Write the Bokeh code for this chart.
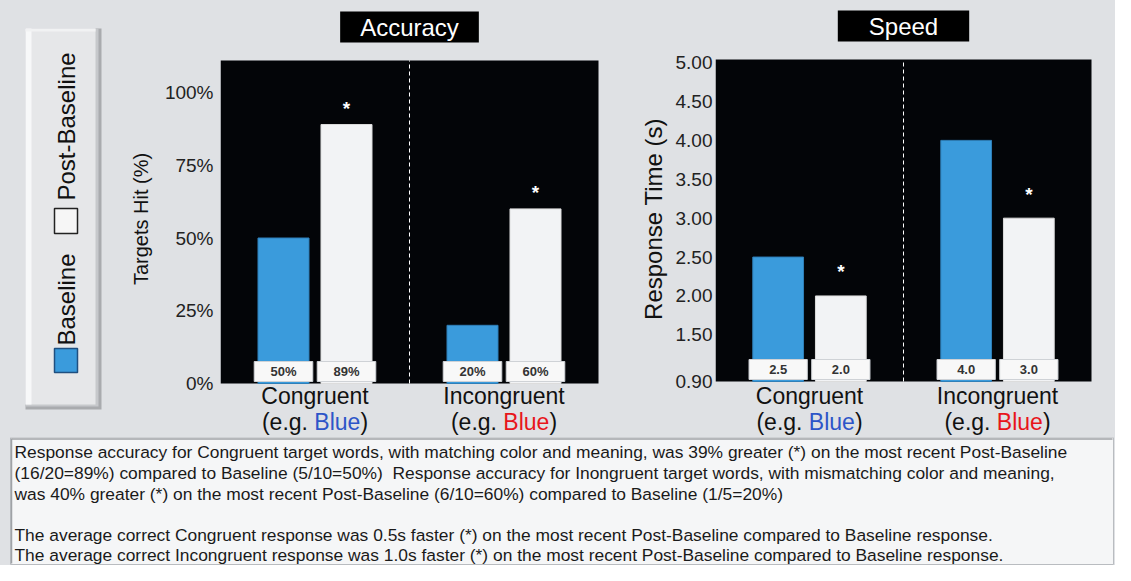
import math
from bokeh.plotting import figure
from bokeh.models import Range1d, FixedTicker, PrintfTickFormatter, Label, BoxAnnotation
from bokeh.layouts import row, column
from bokeh.embed import file_html
from bokeh.resources import INLINE
from bokeh.core.properties import value

# ---------------- data ----------------
categories = ["Congruent", "Incongruent"]
series_names = ["Baseline", "Post-Baseline"]
acc_baseline = [50, 20]
acc_post = [89, 60]
speed_baseline = [2.5, 4.0]
speed_post = [2.0, 3.0]
acc_ticks = [0, 25, 50, 75, 100]
speed_ticks = [0.9, 1.5, 2.0, 2.5, 3.0, 3.5, 4.0, 4.5, 5.0]
example_word = "Blue"
example_colors = ["#2d55c8", "#e8151b"]
summary_lines = [
    "Response accuracy for Congruent target words, with matching color and meaning, was 39% greater (*) on the most recent Post-Baseline",
    "(16/20=89%) compared to Baseline (5/10=50%) \u00a0Response accuracy for Inongruent target words, with mismatching color and meaning,",
    "was 40% greater (*) on the most recent Post-Baseline (6/10=60%) compared to Baseline (1/5=20%)",
    "",
    "The average correct Congruent response was 0.5s faster (*) on the most recent Post-Baseline compared to Baseline response.",
    "The average correct Incongruent response was 1.0s faster (*) on the most recent Post-Baseline compared to Baseline response.",
]

# ---------------- style / layout ----------------
BG = "#dfe1e4"
FRAME = "#030508"
BLUE = "#3a9bdc"
WHITE_BAR = "#f2f3f5"
FONT = "Liberation Sans"
PAGE_W = 1115
PAGE_H = 565
ROW_H = 437


def make_panel(title, ylabel, ylabel_size, base, post, ymin, ymax, ticks, tick_fmt, val_fmt,
               fig_left, fig_width, box_left, box_right, box_top, box_bottom,
               title_pad, title_y, star_gap, label_standoff, axis_standoff, cat_y1, cat_y2):
    ppu = (box_bottom - box_top) / (ymax - ymin)      # px per data unit (y)
    ppx = (box_right - box_left) / 2.0                # px per category (x)

    def ydata(py):
        return ymin + (box_bottom - py) / ppu

    x_end = (fig_left + fig_width - box_left) / ppx
    p = figure(width=fig_width, height=ROW_H,
               x_range=Range1d(0, x_end), y_range=Range1d(ydata(ROW_H), ydata(0)),
               output_backend="svg", toolbar_location=None,
               min_border_left=box_left - fig_left, min_border_right=0,
               min_border_top=0, min_border_bottom=0)
    p.background_fill_color = BG
    p.border_fill_color = BG
    p.outline_line_color = None
    p.grid.visible = False
    p.xaxis.visible = False

    # black plotting area
    p.add_layout(BoxAnnotation(left=0, right=2, bottom=ymin, top=ymax, fill_color=FRAME,
                               fill_alpha=1, line_color=None, level="underlay"))

    ya = p.yaxis[0]
    ya.ticker = FixedTicker(ticks=ticks)
    ya.formatter = PrintfTickFormatter(format=tick_fmt)
    ya.axis_line_color = None
    ya.major_tick_line_color = None
    ya.minor_tick_line_color = None
    ya.major_tick_out = 0
    ya.major_tick_in = 0
    ya.minor_tick_out = 0
    ya.minor_tick_in = 0
    ya.major_label_text_font = FONT
    ya.major_label_text_font_size = "19px"
    ya.major_label_text_color = "#222222"
    ya.major_label_standoff = label_standoff
    ya.axis_label = ylabel
    ya.axis_label_text_font = FONT
    ya.axis_label_text_font_size = ylabel_size
    ya.axis_label_text_font_style = "normal"
    ya.axis_label_text_color = "#111111"
    ya.axis_label_standoff = axis_standoff

    centers = [i + 0.5 for i in range(len(categories))]
    xb = [c - 1 / 6 for c in centers]
    xp = [c + 1 / 6 for c in centers]
    p.vbar(x=xb, top=base, bottom=ymin, width=0.27, fill_color=BLUE, line_color="#2f7fb8")
    p.vbar(x=xp, top=post, bottom=ymin, width=0.27, fill_color=WHITE_BAR, line_color="#dcdcdc")

    # value boxes at bar foot
    xs = xb + xp
    vals = list(base) + list(post)
    yb = [ymin + 12 / ppu] * len(xs)
    p.rect(x=xs, y=yb, width=0.31, height=20, height_units="screen",
           fill_color="#f8f8f8", line_color="#cfd2d6")
    p.text(x=xs, y=yb, text=[val_fmt(v) for v in vals], text_align="center",
           text_baseline="middle", text_font=value(FONT), text_font_size="13px",
           text_font_style="bold", text_color="#333333")

    # significance stars
    p.text(x=xp, y=post, text=["*"] * len(xp), text_align="center", text_baseline="middle",
           y_offset=-star_gap, text_font=value(FONT), text_font_size="19px",
           text_font_style="bold", text_color="#ffffff")

    # divider between the two categories
    p.segment(x0=[1], y0=[ymin], x1=[1], y1=[ymax], line_color="#ffffff",
              line_dash="4 3", line_width=1)

    # title box
    p.add_layout(Label(x=1, y=ydata(title_y), text=title, text_align="center",
                       text_baseline="middle", text_color="#ffffff", text_font=FONT,
                       text_font_size="24px", background_fill_color="#000000",
                       padding=title_pad))

    # category labels
    fs = 23
    for i, c in enumerate(categories):
        cx = centers[i]
        p.add_layout(Label(x=cx, y=ydata(cat_y1), text=c, text_align="center",
                           text_baseline="middle", text_font=FONT, text_font_size=f"{fs}px",
                           text_color="#111111"))
        w1 = 2.279 * fs
        w2 = 2.001 * fs
        start = -(w1 + w2 + 0.333 * fs) / 2
        yl = ydata(cat_y2)
        p.add_layout(Label(x=cx, y=yl, x_offset=start, text="(e.g. ", text_align="left",
                           text_baseline="middle", text_font=FONT, text_font_size=f"{fs}px",
                           text_color="#111111"))
        p.add_layout(Label(x=cx, y=yl, x_offset=start + w1, text=example_word, text_align="left",
                           text_baseline="middle", text_font=FONT, text_font_size=f"{fs}px",
                           text_color=example_colors[i]))
        p.add_layout(Label(x=cx, y=yl, x_offset=start + w1 + w2, text=")", text_align="left",
                           text_baseline="middle", text_font=FONT, text_font_size=f"{fs}px",
                           text_color="#111111"))
    return p


acc = make_panel("Accuracy", "Targets Hit (%)", "20px", acc_baseline, acc_post, 0, 111,
                 acc_ticks, "%d%%", lambda v: f"{v}%",
                 fig_left=112, fig_width=500, box_left=220, box_right=598, box_top=60, box_bottom=383,
                 title_pad=(20, 2), title_y=26.5, star_gap=16, label_standoff=7, axis_standoff=10,
                 cat_y1=395, cat_y2=421)
spd = make_panel("Speed", "Response Time (s)", "24px", speed_baseline, speed_post, 0.9, 5.04,
                 speed_ticks, "%.2f", lambda v: f"{v:.1f}",
                 fig_left=612, fig_width=503, box_left=715, box_right=1091, box_top=59, box_bottom=381,
                 title_pad=(31, 2), title_y=25.5, star_gap=24, label_standoff=3, axis_standoff=6,
                 cat_y1=395, cat_y2=421)

# ---------------- legend panel ----------------
lg = figure(width=112, height=ROW_H, x_range=Range1d(0, 112), y_range=Range1d(ROW_H, 0),
            output_backend="svg", toolbar_location=None,
            min_border_left=0, min_border_right=0, min_border_top=0, min_border_bottom=0)
lg.background_fill_color = BG
lg.border_fill_color = BG
lg.outline_line_color = None
lg.axis.visible = False
lg.grid.visible = False
lg.quad(left=[25], right=[101], top=[28], bottom=[409], fill_color="#a9abae", line_color=None)
lg.quad(left=[25], right=[98], top=[28], bottom=[406], fill_color="#c6c8cb", line_color=None)
lg.quad(left=[25], right=[95], top=[28], bottom=[404], fill_color="#e6e7e9", line_color=None)
lg.quad(left=[25], right=[31], top=[28], bottom=[404], fill_color="#f7f8f9", line_color=None)
lg.quad(left=[25], right=[95], top=[28], bottom=[31], fill_color="#f1f2f3", line_color=None)
lg.quad(left=[54], right=[77], top=[348], bottom=[372], fill_color=BLUE, line_color="#1f4f80", line_width=1.5)
lg.quad(left=[54], right=[77], top=[208], bottom=[233], fill_color="#f6f6f6", line_color="#222222", line_width=1.5)
lg.text(x=[66, 66], y=[345, 200], text=series_names, angle=math.pi / 2, text_align="left",
        text_baseline="middle", text_font=value(FONT), text_font_size="24px", text_color="#111111")

# ---------------- summary text panel ----------------
TXT_H = PAGE_H - ROW_H
tf = figure(width=PAGE_W, height=TXT_H, x_range=Range1d(0, PAGE_W), y_range=Range1d(PAGE_H, ROW_H),
            output_backend="svg", toolbar_location=None,
            min_border_left=0, min_border_right=0, min_border_top=0, min_border_bottom=0)
tf.background_fill_color = BG
tf.border_fill_color = BG
tf.outline_line_color = None
tf.axis.visible = False
tf.grid.visible = False
tf.quad(left=[10], right=[1113], top=[ROW_H], bottom=[PAGE_H - 1], fill_color="#f5f6f7",
        line_color="#b9bcc0", line_width=1)
tf.segment(x0=[11, 11], y0=[ROW_H + 1.5, ROW_H + 1], x1=[1112, 11], y1=[ROW_H + 1.5, PAGE_H - 2],
           line_color="#9fa2a6", line_width=1.5)
line_y = [451, 472, 493, 514, 534, 554]
shown = [(t, y) for t, y in zip(summary_lines, line_y) if t]
tf.text(x=[14] * len(shown), y=[y for _, y in shown], text=[t for t, _ in shown],
        text_align="left", text_baseline="middle", text_font=value(FONT),
        text_font_size="17.4px", text_color="#1a1a1a")

layout = column(row(lg, acc, spd), tf, styles={"background-color": BG})

open("out.html", "w").write(file_html(layout, INLINE))
